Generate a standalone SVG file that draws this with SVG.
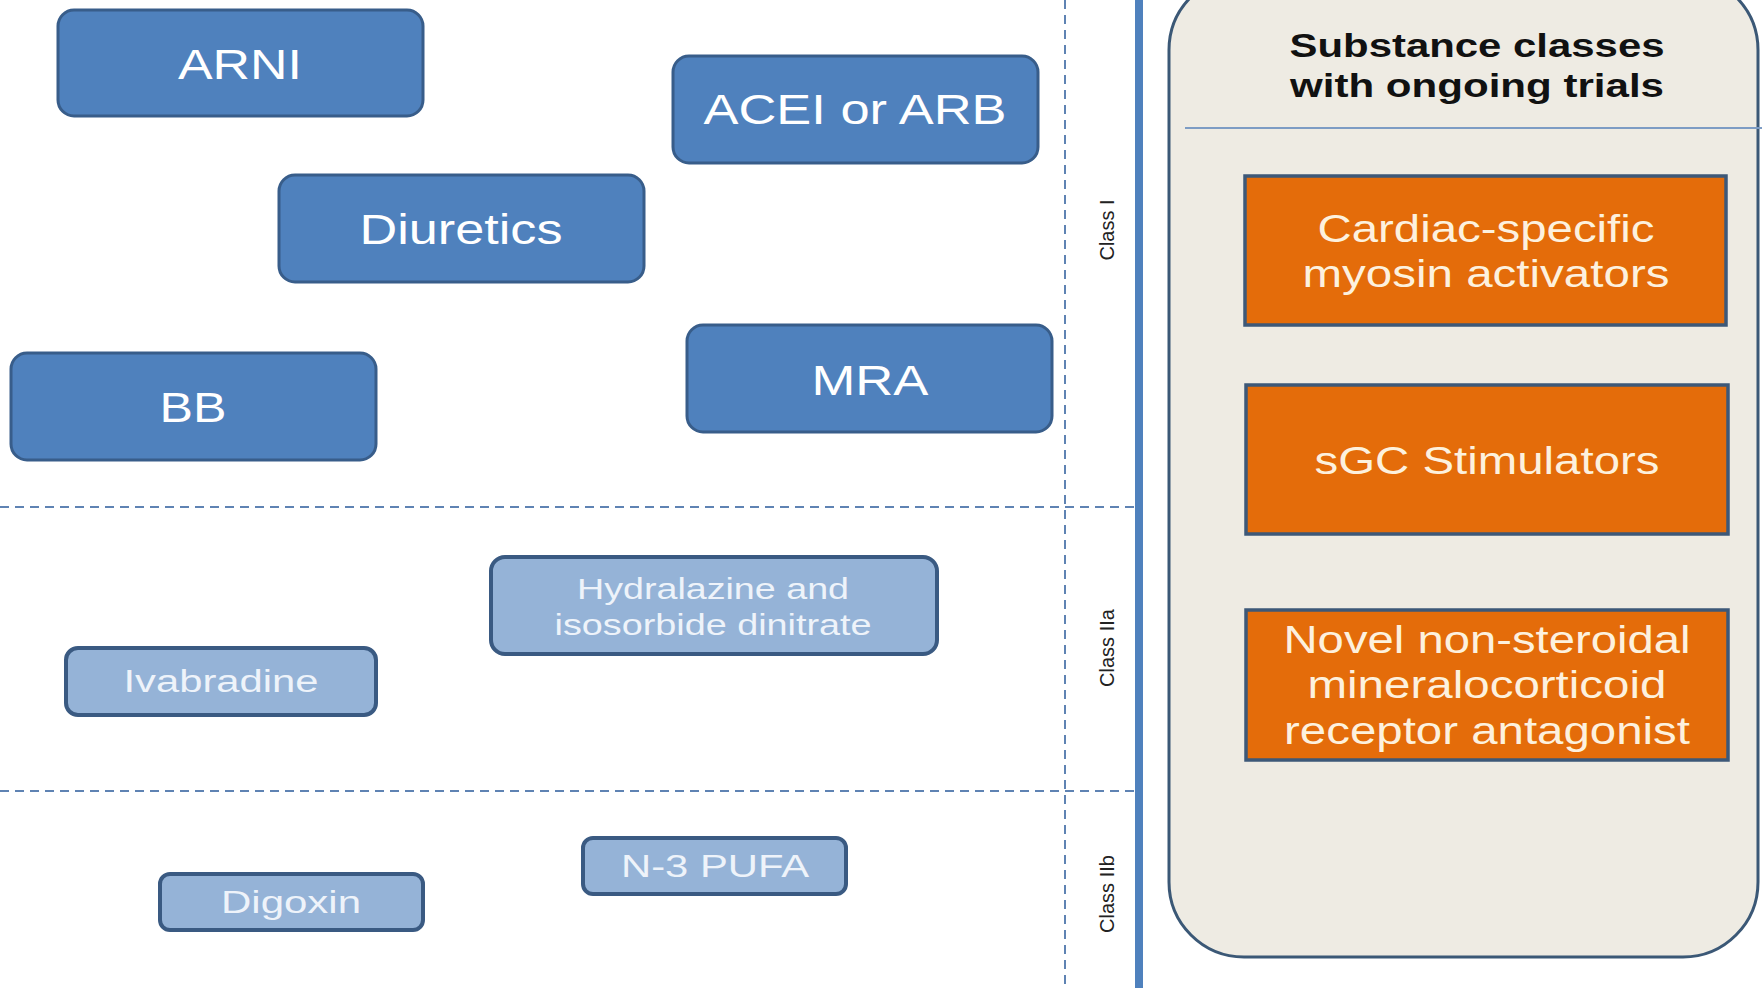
<svg xmlns="http://www.w3.org/2000/svg" width="1762" height="988" viewBox="0 0 1762 988">
<style>
.bb{fill:#4f81bd;stroke:#385d8a;stroke-width:3}
.lb{fill:#95b3d7;stroke:#3a5a82;stroke-width:4}
.ob{fill:#e46c0a;stroke:#3d5878;stroke-width:3.5}
.tw{font-family:"Liberation Sans",Arial,sans-serif;fill:#ffffff;text-anchor:middle}
.tl{font-family:"Liberation Sans",Arial,sans-serif;fill:#eef3fa;text-anchor:middle}
.to{font-family:"Liberation Sans",Arial,sans-serif;fill:#fdf1de;text-anchor:middle}
.tc{font-family:"Liberation Sans",Arial,sans-serif;fill:#222222;text-anchor:middle;font-size:20px}
.th{font-family:"Liberation Sans",Arial,sans-serif;fill:#111111;text-anchor:middle;font-weight:bold;font-size:33px}
.dash{stroke:#5f83b3;stroke-width:2;stroke-dasharray:9 6;fill:none}
</style>
<rect x="0" y="0" width="1762" height="988" fill="#ffffff"/>
<g id="connectors">
<line class="dash" x1="0" y1="507" x2="1136" y2="507"/>
<line class="dash" x1="0" y1="791" x2="1136" y2="791"/>
<line class="dash" x1="1065" y1="0" x2="1065" y2="988"/>
<line x1="1139" y1="0" x2="1139" y2="988" stroke="#4f81bd" stroke-width="8"/>
</g>
<g id="class-labels">
<text class="tc" transform="translate(1114,230) rotate(-90)">Class I</text>
<text class="tc" transform="translate(1114,648) rotate(-90)">Class IIa</text>
<text class="tc" transform="translate(1114,894) rotate(-90)">Class IIb</text>
</g>
<g id="arni"><rect class="bb" x="58" y="10" width="365" height="106" rx="16"/><text class="tw" x="240" y="79" font-size="42" textLength="124" lengthAdjust="spacingAndGlyphs">ARNI</text></g>
<g id="acei"><rect class="bb" x="673" y="56" width="365" height="107" rx="16"/><text class="tw" x="855" y="124" font-size="42" textLength="303" lengthAdjust="spacingAndGlyphs">ACEI or ARB</text></g>
<g id="diuretics"><rect class="bb" x="279" y="175" width="365" height="107" rx="16"/><text class="tw" x="461" y="244" font-size="42" textLength="203" lengthAdjust="spacingAndGlyphs">Diuretics</text></g>
<g id="bb"><rect class="bb" x="11" y="353" width="365" height="107" rx="16"/><text class="tw" x="193" y="422" font-size="42" textLength="67" lengthAdjust="spacingAndGlyphs">BB</text></g>
<g id="mra"><rect class="bb" x="687" y="325" width="365" height="107" rx="16"/><text class="tw" x="870" y="395" font-size="42" textLength="117" lengthAdjust="spacingAndGlyphs">MRA</text></g>
<g id="hydralazine"><rect class="lb" x="491" y="557" width="446" height="97" rx="14"/><text class="tl" x="713" y="599" font-size="29" textLength="272" lengthAdjust="spacingAndGlyphs">Hydralazine and</text><text class="tl" x="713" y="635" font-size="29" textLength="317" lengthAdjust="spacingAndGlyphs">isosorbide dinitrate</text></g>
<g id="ivabradine"><rect class="lb" x="66" y="648" width="310" height="67" rx="12"/><text class="tl" x="221" y="692" font-size="31" textLength="195" lengthAdjust="spacingAndGlyphs">Ivabradine</text></g>
<g id="digoxin"><rect class="lb" x="160" y="874" width="263" height="56" rx="10"/><text class="tl" x="291" y="913" font-size="31" textLength="140" lengthAdjust="spacingAndGlyphs">Digoxin</text></g>
<g id="n3pufa"><rect class="lb" x="583" y="838" width="263" height="56" rx="10"/><text class="tl" x="715" y="877" font-size="31" textLength="188" lengthAdjust="spacingAndGlyphs">N-3 PUFA</text></g>
<g id="trials-panel">
<rect x="1169" y="-25" width="589" height="982" rx="75" fill="#eeebe3" stroke="#3b5876" stroke-width="3"/>
<text class="th" x="1477" y="57" textLength="375" lengthAdjust="spacingAndGlyphs">Substance classes</text>
<text class="th" x="1477" y="97" textLength="374" lengthAdjust="spacingAndGlyphs">with ongoing trials</text>
<line x1="1185" y1="128" x2="1762" y2="128" stroke="#7d9cc4" stroke-width="2"/>
</g>
<g id="myosin"><rect class="ob" x="1245" y="176" width="481" height="149"/><text class="to" x="1486" y="242" font-size="38" textLength="337" lengthAdjust="spacingAndGlyphs">Cardiac-specific</text><text class="to" x="1486" y="287" font-size="38" textLength="367" lengthAdjust="spacingAndGlyphs">myosin activators</text></g>
<g id="sgc"><rect class="ob" x="1246" y="385" width="482" height="149"/><text class="to" x="1487" y="474" font-size="38" textLength="345" lengthAdjust="spacingAndGlyphs">sGC Stimulators</text></g>
<g id="nsmra"><rect class="ob" x="1246" y="610" width="482" height="150"/><text class="to" x="1487" y="653" font-size="38" textLength="407" lengthAdjust="spacingAndGlyphs">Novel non-steroidal</text><text class="to" x="1487" y="698" font-size="38" textLength="359" lengthAdjust="spacingAndGlyphs">mineralocorticoid</text><text class="to" x="1487" y="744" font-size="38" textLength="406" lengthAdjust="spacingAndGlyphs">receptor antagonist</text></g>
</svg>
